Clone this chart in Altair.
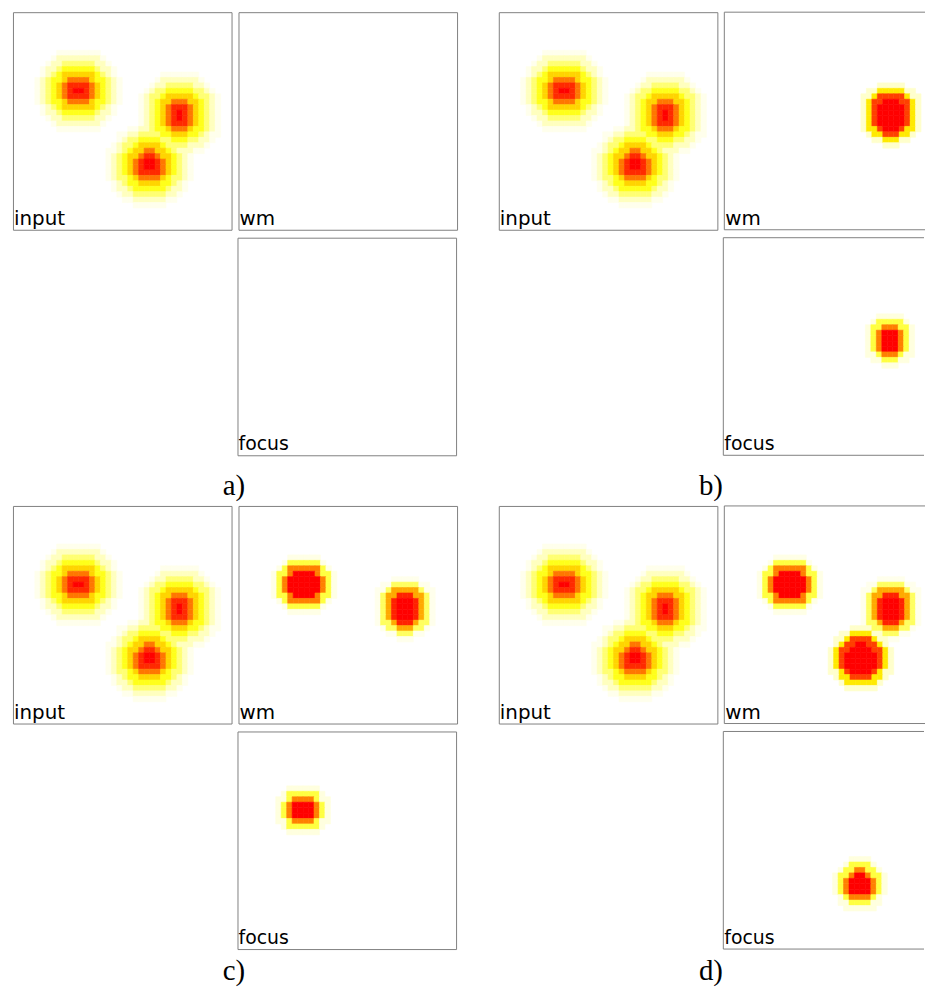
import numpy as np
import pandas as pd
import altair as alt

GRID = 40  # cells per side of every panel

sub_keys = ["a", "b", "c", "d"]
sub_labels = ["a)", "b)", "c)", "d)"]
panel_names = ["input", "wm", "focus"]

# blob centres (in cell units, origin top-left of panel)
blob_names = ["A", "B", "C"]
blob_col = [12.0, 30.5, 25.0]
blob_row = [14.5, 18.8, 28.2]

# radial intensity profiles (index = ring, in cells)
profile_input = [1.0, 0.9, 0.72, 0.5, 0.36, 0.22, 0.1, 0.03]
profile_wm_large = [1.0, 1.0, 1.0, 0.85, 0.45, 0.08]
profile_wm_medium = [1.0, 1.0, 1.0, 0.7, 0.3, 0.04]
profile_wm_small = [1.0, 1.0, 0.92, 0.6, 0.25, 0.03]
profile_focus = [1.0, 1.0, 0.7, 0.3, 0.05]

profiles = {
    "input": profile_input,
    "wm_large": profile_wm_large,
    "wm_medium": profile_wm_medium,
    "wm_small": profile_wm_small,
    "focus": profile_focus,
}

# which blobs appear in which panel of each sub-figure
input_blobs = ["A", "B", "C"]
wm_blobs = {
    "a": [],
    "b": [("B", "wm_large")],
    "c": [("A", "wm_medium"), ("B", "wm_small")],
    "d": [("A", "wm_medium"), ("B", "wm_small"), ("C", "wm_large")],
}
focus_blobs = {
    "a": [],
    "b": [("B", "focus")],
    "c": [("A", "focus")],
    "d": [("C", "focus")],
}


def field(blobs):
    vals = np.zeros((GRID, GRID))
    for name, prof_name in blobs:
        i = blob_names.index(name)
        prof = profiles[prof_name]
        for r in range(GRID):
            for c in range(GRID):
                d = np.hypot(c + 0.5 - blob_col[i], r + 0.5 - blob_row[i])
                k = int(d)
                if k < len(prof):
                    vals[r, c] = max(vals[r, c], prof[k])
    return vals


rows = []
for s in sub_keys:
    panel_blobs = {
        "input": [(b, "input") for b in input_blobs],
        "wm": wm_blobs[s],
        "focus": focus_blobs[s],
    }
    for p in panel_names:
        vals = field(panel_blobs[p])
        for r in range(GRID):
            for c in range(GRID):
                if vals[r, c] > 0.004:
                    rows.append({"sub": s, "panel": p, "c": c, "c2": c + 1,
                                 "r": r, "r2": r + 1, "v": float(vals[r, c])})

df = pd.DataFrame(rows)

PANEL_W = 220
PANEL_H = 219
CELL = PANEL_W / GRID
RIGHT_W = 202  # right-most column is cut by the page edge
BORDER = "#808080"
LABEL_FONT = 29
cscale = alt.Scale(domain=[0, 0.4, 1], range=["#ffffff", "#ffff00", "#ff0000"],
                   interpolate="rgb")
unit = alt.Scale(domain=[0, 1], nice=False, zero=False)


def panel(s, p, width=PANEL_W):
    xmax = width / CELL
    xscale = alt.Scale(domain=[0, xmax], nice=False, zero=False)
    yscale = alt.Scale(domain=[0, GRID], nice=False, zero=False, reverse=True)
    rect = alt.Chart(df).transform_filter(
        f"datum.sub == '{s}' && datum.panel == '{p}'"
    ).mark_rect(strokeWidth=0.6).encode(
        x=alt.X("c:Q", scale=xscale, axis=None),
        x2="c2:Q",
        y=alt.Y("r:Q", scale=yscale, axis=None),
        y2="r2:Q",
        color=alt.Color("v:Q", scale=cscale, legend=None),
        stroke=alt.Stroke("v:Q", scale=cscale, legend=None),
    )
    text = alt.Chart(pd.DataFrame({"label": [p]})).mark_text(
        align="left", baseline="alphabetic", dx=1, dy=-5,
        fontSize=20 if p != "focus" else 19, font="DejaVu Sans", color="black"
    ).encode(x=alt.datum(0), y=alt.datum(GRID), text="label:N")
    layers = [rect, text]
    props = dict(width=width, height=PANEL_H)
    if width < PANEL_W:
        one = pd.DataFrame({"k": [0]})
        left = alt.Chart(one).mark_rule(color=BORDER, strokeWidth=1).encode(
            x=alt.datum(0), y=alt.datum(0), y2=alt.datum(GRID))
        top = alt.Chart(one).mark_rule(color=BORDER, strokeWidth=1).encode(
            y=alt.datum(0), x=alt.datum(0), x2=alt.datum(xmax))
        bottom = alt.Chart(one).mark_rule(color=BORDER, strokeWidth=1).encode(
            y=alt.datum(GRID), x=alt.datum(0), x2=alt.datum(xmax))
        layers += [left, top, bottom]
        props["view"] = alt.ViewBackground(strokeOpacity=0, strokeWidth=0)
    return alt.layer(*layers).properties(**props)


def blank():
    return alt.Chart(pd.DataFrame({"z": [0.5]})).mark_point(opacity=0).encode(
        x=alt.X("z:Q", axis=None, scale=unit), y=alt.Y("z:Q", axis=None, scale=unit)
    ).properties(width=PANEL_W, height=PANEL_H,
                 view=alt.ViewBackground(strokeOpacity=0, strokeWidth=0))


def label_row(text, width, height, dy):
    return alt.Chart(pd.DataFrame({"label": [text]})).mark_text(
        align="center", baseline="middle", dy=dy, fontSize=LABEL_FONT,
        font="Liberation Serif", color="black"
    ).encode(
        x=alt.X(datum=0.5, scale=unit, axis=None),
        y=alt.Y(datum=0.5, scale=unit, axis=None),
        text="label:N",
    ).properties(width=width, height=height,
                 view=alt.ViewBackground(strokeOpacity=0, strokeWidth=0))


def subfig(i, label_h, label_dy):
    s = sub_keys[i]
    w = RIGHT_W if i in (1, 3) else PANEL_W
    top = alt.hconcat(panel(s, "input"), panel(s, "wm", w), spacing=5)
    bottom = alt.hconcat(blank(), panel(s, "focus", w), spacing=5)
    grid = alt.vconcat(top, bottom, spacing=6)
    return alt.vconcat(grid, label_row(sub_labels[i], PANEL_W + 5 + w,
                                       label_h, label_dy), spacing=0)


chart = alt.vconcat(
    alt.hconcat(subfig(0, 49, 5.5), subfig(1, 49, 5.5), spacing=40),
    alt.hconcat(subfig(2, 35, 3.5), subfig(3, 35, 3.5), spacing=40),
    spacing=0,
).properties(
    padding={"left": 4, "top": 0, "right": 0, "bottom": 0}
).configure_view(stroke=BORDER, strokeWidth=1)

chart.save("out.html", embed_options={"renderer": "svg", "actions": False})
